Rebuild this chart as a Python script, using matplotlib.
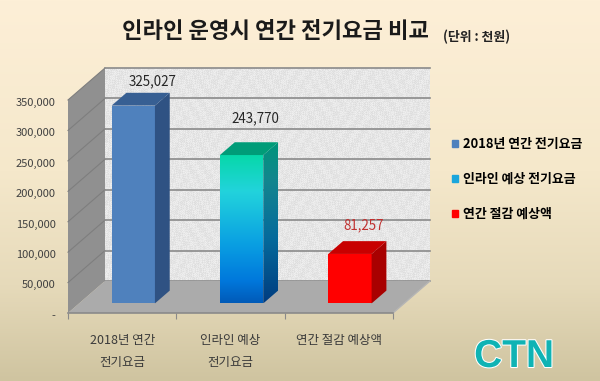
import numpy as np
import matplotlib
matplotlib.use("Agg")
import matplotlib.pyplot as plt
import matplotlib.patheffects as pe
from matplotlib.colors import LinearSegmentedColormap
from matplotlib.patches import Patch, Polygon
from matplotlib.transforms import ScaledTranslation

plt.rcParams['font.family'] = ['Noto Sans CJK KR', 'DejaVu Sans']

title = "인라인 운영시 연간 전기요금 비교"
unit = "(단위 : 천원)"
categories = ["2018년 연간\n전기요금", "인라인 예상\n전기요금", "연간 절감 예상액"]
legend_names = ["2018년 연간 전기요금", "인라인 예상 전기요금", "연간 절감 예상액"]
values = [325027, 243770, 81257]
value_labels = ["325,027", "243,770", "81,257"]
y_ticks = [0, 50000, 100000, 150000, 200000, 250000, 300000, 350000]
y_labels = ["-", "50,000", "100,000", "150,000", "200,000", "250,000", "300,000", "350,000"]

W, H = 600, 381
YMAX = 350000
# oblique depth of the box, in data units
DX = 37 / (325 / 3)
DY = 32 / (213 / YMAX)
BAR_W = 0.4
D0, D1 = 0.3, 0.7


def proj(x, y, d):
    return (x + d * DX, y + d * DY)


def poly(ax, pts, color, z):
    p = Polygon(pts, closed=True, facecolor=color, edgecolor='none', zorder=z, clip_on=False)
    ax.add_patch(p)
    return p


def fill_gradient(ax, pts, cmap, z):
    xs = [p[0] for p in pts]
    ys = [p[1] for p in pts]
    grad = np.linspace(0, 1, 256).reshape(-1, 1)
    im = ax.imshow(grad, cmap=cmap, aspect='auto', origin='upper', zorder=z,
                   extent=(min(xs), max(xs), min(ys), max(ys)))
    clip = Polygon(pts, closed=True, transform=ax.transData, facecolor='none', edgecolor='none')
    ax.add_patch(clip)
    im.set_clip_box(ax.figure.bbox)
    im.set_clip_path(clip)


fig = plt.figure(figsize=(W / 100, H / 100), dpi=100)

# page background
bg = fig.add_axes([0, 0, 1, 1], zorder=-1)
bg.axis('off')
bg_cmap = LinearSegmentedColormap.from_list(
    "bg", [(0, "#FDEFD7"), (0.45, "#F5E8CB"), (0.75, "#E6DABA"), (1, "#CFC4A0")])
bg.imshow(np.linspace(0, 1, 256).reshape(-1, 1), cmap=bg_cmap, aspect='auto')

# front plane of the 3d box
ax = fig.add_axes([68 / W, 1 - 313 / H, 325 / W, 213 / H], zorder=1)
ax.patch.set_visible(False)
n = len(categories)

# back wall, speckled like the original
jj, ii = np.meshgrid(np.arange(325), np.arange(213))
speckle = np.sin(ii * 1.7 + np.sin(jj * 0.9) * 3) * np.sin(jj * 1.3 + np.sin(ii * 0.7) * 3)
back = [proj(0, 0, 1), proj(n, 0, 1), proj(n, YMAX, 1), proj(0, YMAX, 1)]
wall = ax.imshow(speckle, cmap='gray', vmin=-22.5, vmax=2.5, aspect='auto', zorder=1,
                 extent=(back[0][0], back[1][0], back[0][1], back[2][1]))
wall.set_clip_box(fig.bbox)

poly(ax, [proj(0, 0, 0), proj(0, 0, 1), proj(0, YMAX, 1), proj(0, YMAX, 0)], "#909090", 1)
poly(ax, [proj(0, 0, 0), proj(n, 0, 0), proj(n, 0, 1), proj(0, 0, 1)], "#ABABAB", 2)

# gridlines run along the side wall and the back wall
for t in y_ticks:
    a, b, c = proj(0, t, 0), proj(0, t, 1), proj(n, t, 1)
    if t > 0:
        ax.plot([a[0], b[0]], [a[1], b[1]], color="#7E7E7E", lw=0.8, zorder=1.5, clip_on=False)
    ax.plot([b[0], c[0]], [b[1], c[1]], color="#8A8A8A", lw=1.2, zorder=1.5, clip_on=False)
ax.plot([proj(n, 0, 0)[0], proj(n, 0, 1)[0]], [0, DY], color="#B5B5B5", lw=1, zorder=2, clip_on=False)

front_cmap = LinearSegmentedColormap.from_list(
    "f2", [(0, "#06D8A8"), (0.25, "#22D3DC"), (0.6, "#0AA0E2"), (0.85, "#0078DC"), (1, "#005AB8")])
side_cmap = LinearSegmentedColormap.from_list(
    "s2", [(0, "#00957A"), (0.25, "#13858F"), (0.6, "#056A9C"), (1, "#003C80")])
faces = [("#4F81BD", "#2F5283", "#375F93"),
         (front_cmap, side_cmap, "#009C78"),
         ("#FF0000", "#A80000", "#C80000")]
label_colors = ["#262626", "#262626", "#C0302F"]
# label offsets from the bar top, in points
label_dx = [3, -1, -1]
label_dy = [3.5, 12, 6.5]

for i, v in enumerate(values):
    x0 = i + 0.5 - BAR_W / 2
    x1 = i + 0.5 + BAR_W / 2
    front = [proj(x0, 0, D0), proj(x1, 0, D0), proj(x1, v, D0), proj(x0, v, D0)]
    side = [proj(x1, 0, D0), proj(x1, 0, D1), proj(x1, v, D1), proj(x1, v, D0)]
    top = [proj(x0, v, D0), proj(x1, v, D0), proj(x1, v, D1), proj(x0, v, D1)]
    front_c, side_c, top_c = faces[i]
    if isinstance(front_c, str):
        poly(ax, front, front_c, 3)
        poly(ax, side, side_c, 3)
    else:
        fill_gradient(ax, front, front_c, 3)
        fill_gradient(ax, side, side_c, 3)
    poly(ax, top, top_c, 3)
    lx, ly = proj(i + 0.5, v, D1)
    ax.annotate(value_labels[i], (lx, ly), xytext=(label_dx[i], label_dy[i]), textcoords='offset points',
                ha='center', va='bottom', fontsize=9.6, color=label_colors[i], zorder=4,
                annotation_clip=False)

ax.set_xlim(0, n)
ax.set_ylim(0, YMAX)
for s in ['top', 'right', 'left']:
    ax.spines[s].set_visible(False)
ax.spines['bottom'].set_color("#8A8A8A")
ax.spines['bottom'].set_linewidth(1.2)

ax.set_xticks(np.arange(n + 1))
ax.set_xticklabels([])
ax.tick_params(axis='x', which='major', length=4, color="#8A8A8A")
ax.set_xticks(np.arange(n) + 0.5, minor=True)
ax.set_xticklabels(categories, minor=True, fontsize=9, color="#3A3A3A", linespacing=1.95)
ax.tick_params(axis='x', which='minor', length=0, pad=15)
ax.set_yticks(y_ticks)
ax.set_yticklabels(y_labels, fontsize=8, color="#404040", va='center')
ax.tick_params(axis='y', length=0, pad=9)
for lab in ax.get_yticklabels():
    lab.set_transform(lab.get_transform() + ScaledTranslation(0, -2 / 72, fig.dpi_scale_trans))

fig.text(275 / W, 1 - 32 / H, title, ha='center', va='center', fontsize=16,
         fontweight='bold', color="#1A1A1A")
fig.text(477 / W, 1 - 37 / H, unit, ha='center', va='center', fontsize=9.3,
         fontweight='bold', color="#222222")

handles = [Patch(color="#4F81BD"), Patch(color="#1AA6DC"), Patch(color="#FF0000")]
fig.legend(handles, legend_names, loc='upper left', bbox_to_anchor=(452 / W, 1 - 137 / H),
           frameon=False, handlelength=0.5, handleheight=0.5,
           handletextpad=0.35, labelspacing=1.62, borderpad=0, borderaxespad=0,
           prop={'weight': 'bold', 'size': 9.3})

fig.text(514 / W, 1 - 357 / H, "CTN", ha='center', va='center', fontsize=28, fontweight='bold',
         color="#0FB3B4", family=['Liberation Sans', 'DejaVu Sans'],
         path_effects=[pe.withStroke(linewidth=1.5, foreground='white')])

fig.savefig("out.png", dpi=100)
